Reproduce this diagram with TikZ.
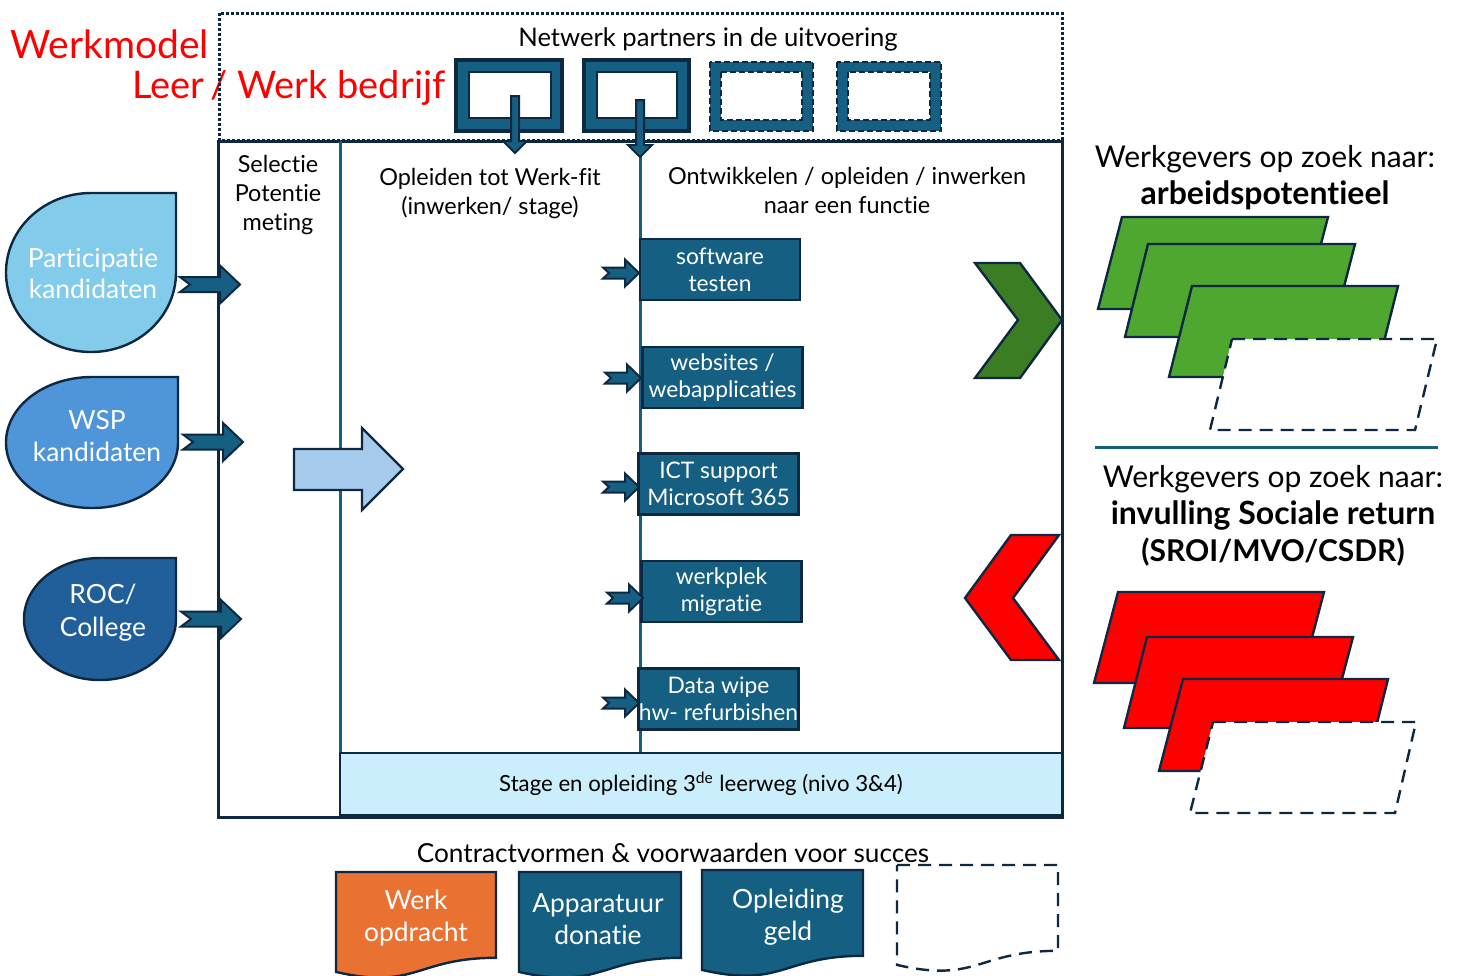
\documentclass[tikz,border=0pt]{standalone}
\usepackage{fontspec}
\setmainfont{Lato}[Ligatures=NoCommon]
\definecolor{navy}{HTML}{0E2841}
\definecolor{tealblue}{HTML}{156082}
\definecolor{lightdrop}{HTML}{83CBEB}
\definecolor{middrop}{HTML}{4E95D9}
\definecolor{darkdrop}{HTML}{215F9A}
\definecolor{bandblue}{HTML}{CAEEFB}
\definecolor{arrowblue}{HTML}{A6CAEC}
\definecolor{greenA}{HTML}{4EA72E}
\definecolor{greenB}{HTML}{3B7D23}
\definecolor{orangeA}{HTML}{E97132}
\definecolor{redA}{HTML}{FF0000}
\tikzset{
  lbl/.style={inner sep=0pt, align=center},
  wlbl/.style={lbl, text=white},
  outl/.style={draw=navy, line width=1.2pt},
  dashl/.style={draw=navy, line width=1.2pt, dash pattern=on 6.5pt off 4pt},
  taskbox/.style={draw=navy, line width=1.2pt, fill=tealblue, text=white, align=center,
    inner sep=0pt, minimum width=80pt, minimum height=30.5pt,
    font=\fontsize{11.4}{13.5}\selectfont},
  bignotch/.pic={\filldraw[fill=tealblue, draw=navy, line width=1pt]
    (0,-7.5) -- (40,-7.5) -- (40,-19) -- (60,0) -- (40,19) -- (40,7.5) -- (0,7.5) -- (10,0) -- cycle;},
  smallnotch/.pic={\filldraw[fill=tealblue, draw=navy, line width=1pt]
    (0,-5.5) -- (22,-5.5) -- (22,-13.5) -- (36,0) -- (22,13.5) -- (22,5.5) -- (0,5.5) -- (6,0) -- cycle;}
}
\begin{document}
\begin{tikzpicture}[x=0.5pt,y=-0.5pt]
\useasboundingbox (0,0) rectangle (1459,975);
\clip (0,0) rectangle (1459,975);
\fill[white] (0,0) rectangle (1459,975);

% title
\node[anchor=base west, inner sep=0pt, text=redA, font=\fontsize{19.5}{22}\selectfont] (title1) at (10,58) {Werkmodel};
\node[anchor=base east, inner sep=0pt, text=redA, font=\fontsize{19}{22}\selectfont] (title2) at (446,98) {Leer\,/ Werk bedrijf};

% partner area (dotted)
\draw[navy, line width=1.5pt, dash pattern=on 1.5pt off 1pt] (219,13) rectangle (1062,140);
\node[lbl, font=\fontsize{12.8}{14}\selectfont] (partners) at (708,39) {Netwerk partners in de uitvoering};

% partner boxes
\filldraw[fill=tealblue, draw=navy, line width=1.6pt] (456,60) rectangle (562,131);
\filldraw[fill=white, outl] (469,72) rectangle (551,118);
\filldraw[fill=tealblue, draw=navy, line width=1.6pt] (584,60) rectangle (689,131);
\filldraw[fill=white, outl] (597,72) rectangle (677,118);
\filldraw[fill=tealblue, draw=navy, line width=1pt, dash pattern=on 3pt off 1.5pt] (710,62) rectangle (813,131);
\filldraw[fill=white, draw=navy, line width=1pt, dash pattern=on 3pt off 1.5pt] (721,72) rectangle (802,120);
\filldraw[fill=tealblue, draw=navy, line width=1pt, dash pattern=on 3pt off 1.5pt] (837,62) rectangle (941,131);
\filldraw[fill=white, draw=navy, line width=1pt, dash pattern=on 3pt off 1.5pt] (848,72) rectangle (930,120);

% main frame
\draw[navy, line width=1.5pt] (218,141) rectangle (1062,817);
\draw[tealblue, line width=1.5pt] (340,141) -- (340,817);
\draw[tealblue, line width=1.5pt] (640,141) -- (640,753);
\filldraw[fill=bandblue, draw=navy, line width=1pt] (340,753) rectangle (1062,815);
\draw[navy, line width=1.5pt] (218,817) -- (1062,817);
\node[lbl, font=\fontsize{11.1}{13}\selectfont] (band) at (701,784) {Stage en opleiding 3\textsuperscript{de} leerweg (nivo 3\&4)};

% down arrows from partners
\filldraw[fill=tealblue, draw=navy, line width=1pt] (511,96) -- (519,96) -- (519,141) -- (527,141) -- (515,153) -- (503,141) -- (511,141) -- cycle;
\filldraw[fill=tealblue, draw=navy, line width=1pt] (636,100) -- (644,100) -- (644,145) -- (652,145) -- (640,157) -- (628,145) -- (636,145) -- cycle;

% column headers
\node[lbl, font=\fontsize{11.7}{14.5}\selectfont] (colA) at (278,195) {Selectie\\Potentie\\meting};
\node[lbl, font=\fontsize{11.7}{14.5}\selectfont] (colB) at (490,193.5) {Opleiden tot Werk-fit\\(inwerken/ stage)};
\node[lbl, font=\fontsize{11.7}{14.5}\selectfont] (colC) at (847,190.5) {Ontwikkelen / opleiden / inwerken\\naar een functie};

% teardrops
\filldraw[fill=lightdrop, outl] (91,193) -- (176,193) -- (176,272.5) .. controls (176,316.4) and (137.9,352) .. (91,352) .. controls (44.1,352) and (6,316.4) .. (6,272.5) .. controls (6,228.6) and (44.1,193) .. (91,193) -- cycle;
\filldraw[fill=middrop, outl] (92,377) -- (178,377) -- (178,442.5) .. controls (178,478.7) and (139.5,508) .. (92,508) .. controls (44.5,508) and (6,478.7) .. (6,442.5) .. controls (6,406.3) and (44.5,377) .. (92,377) -- cycle;
\filldraw[fill=darkdrop, outl] (100,558) -- (176,558) -- (176,619) .. controls (176,652.7) and (142,680) .. (100,680) .. controls (58,680) and (24,652.7) .. (24,619) .. controls (24,585.3) and (58,558) .. (100,558) -- cycle;
\node[wlbl, font=\fontsize{13.2}{15.5}\selectfont] (drop1) at (93,273) {Participatie\\kandidaten};
\node[wlbl, font=\fontsize{13.2}{16}\selectfont] (drop2) at (97,436) {WSP\\kandidaten};
\node[wlbl, font=\fontsize{13.2}{16.5}\selectfont] (drop3) at (103,613) {ROC/\\College};

% notched arrows into frame
\pic at (180,284.5) {bignotch};
\pic at (183,442) {bignotch};
\pic at (181,619) {bignotch};

% big light arrow
\filldraw[fill=arrowblue, outl] (294,449) -- (362,449) -- (362,428) -- (403,469) -- (362,510) -- (362,490) -- (294,490) -- cycle;

% task boxes
\node[taskbox] (b1) at (720,269.5) {software\\testen};
\node[taskbox] (b2) at (722.5,377.5) {websites /\\webapplicaties};
\node[taskbox] (b3) at (718.5,484) {ICT support\\Microsoft 365};
\node[taskbox] (b4) at (721.5,591.5) {werkplek\\migratie};
\node[taskbox] (b5) at (718.5,699) {Data wipe\\hw- refurbishen};
\pic at (603,273) {smallnotch};
\pic at (605,378) {smallnotch};
\pic at (603,487) {smallnotch};
\pic at (607,598) {smallnotch};
\pic at (603,703) {smallnotch};

% chevrons
\filldraw[fill=greenB, outl] (975,263) -- (1020,263) -- (1062,320) -- (1020,378) -- (975,378) -- (1018,320) -- cycle;
\filldraw[fill=redA, outl] (1011,535) -- (1059,535) -- (1013,598) -- (1059,660) -- (1011,660) -- (965,598) -- cycle;

% right side texts
\node[lbl, font=\fontsize{15}{18.5}\selectfont] (emp1) at (1265,178) {Werkgevers op zoek naar:\\{\fontsize{16}{18.5}\selectfont\bfseries arbeidspotentieel}};
\draw[tealblue, line width=1.5pt] (1095,447) -- (1438,447);
\node[lbl, font=\fontsize{15}{18.5}\selectfont] (emp2) at (1273,516) {Werkgevers op zoek naar:\\{\fontsize{16}{18.5}\selectfont\bfseries invulling Sociale return}\\{\fontsize{15}{18.5}\selectfont\bfseries (SROI/MVO/CSDR)}};

% green stack
\filldraw[fill=greenA, outl] (1122,217) -- (1328,217) -- (1304,309) -- (1098,309) -- cycle;
\filldraw[fill=greenA, outl] (1148,244) -- (1355,244) -- (1331,337) -- (1125,337) -- cycle;
\filldraw[fill=greenA, outl] (1192,286) -- (1398,286) -- (1375,377) -- (1169,377) -- cycle;
\filldraw[fill=white, dashl] (1232,339) -- (1437,339) -- (1415,430) -- (1210,430) -- cycle;

% red stack
\filldraw[fill=redA, outl] (1118,592) -- (1324,592) -- (1300,683) -- (1094,683) -- cycle;
\filldraw[fill=redA, outl] (1147,637) -- (1353,637) -- (1329,728) -- (1124,728) -- cycle;
\filldraw[fill=redA, outl] (1183,679) -- (1388,679) -- (1365,771) -- (1159,771) -- cycle;
\filldraw[fill=white, dashl] (1213,722) -- (1416,722) -- (1395,813) -- (1190,813) -- cycle;

% contracts
\node[lbl, font=\fontsize{13.1}{14}\selectfont] (contract) at (673,853) {Contractvormen \& voorwaarden voor succes};
\filldraw[fill=orangeA, outl] (336,872) -- (496,872) -- (496,957.8) .. controls (416,957.8) and (416,990.5) .. (336,971.9) -- cycle;
\filldraw[fill=tealblue, outl] (519,872) -- (681,872) -- (681,957.8) .. controls (600,957.8) and (600,990.5) .. (519,971.9) -- cycle;
\filldraw[fill=tealblue, outl] (702,870) -- (863,870) -- (863,955.8) .. controls (782.5,955.8) and (782.5,988.5) .. (702,969.9) -- cycle;
\draw[dashl] (897,865) -- (1058,865) -- (1058,950.8) .. controls (977.5,950.8) and (977.5,983.5) .. (897,964.9) -- cycle;
\node[wlbl, font=\fontsize{13.2}{16}\selectfont] (doc1) at (416,918) {Werk\\opdracht};
\node[wlbl, font=\fontsize{13.2}{16}\selectfont] (doc2) at (598,919.5) {Apparatuur\\donatie};
\node[wlbl, font=\fontsize{13.2}{16}\selectfont] (doc3) at (788,917) {Opleiding\\geld};
\end{tikzpicture}
\end{document}
